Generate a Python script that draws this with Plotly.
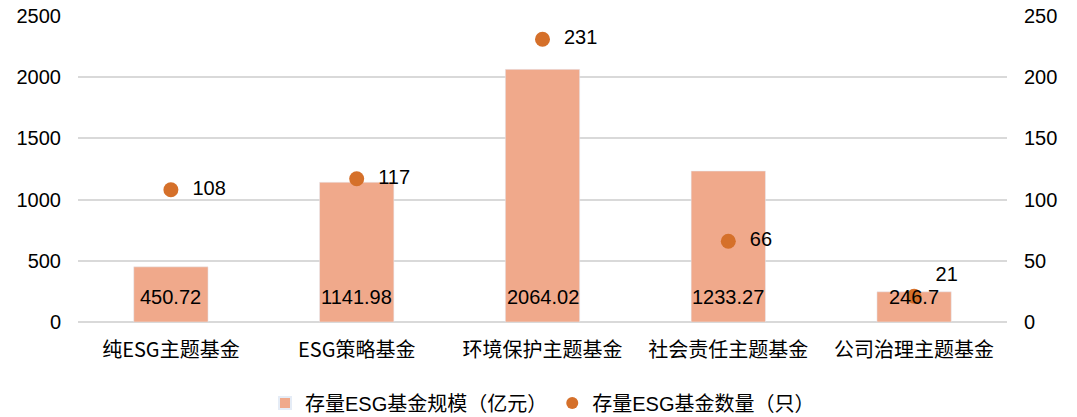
import plotly.graph_objects as go

categories = ['纯ESG主题基金', 'ESG策略基金', '环境保护主题基金', '社会责任主题基金', '公司治理主题基金']
fund_size = [450.72, 1141.98, 2064.02, 1233.27, 246.7]
fund_count = [108, 117, 231, 66, 21]
size_labels = ['450.72', '1141.98', '2064.02', '1233.27', '246.7']
count_pos = ['middle right', 'middle right', 'middle right', 'middle right', 'top right']

font_main = 'Liberation Sans, Arial, Noto Sans CJK SC'

fig = go.Figure()

fig.add_trace(go.Bar(
    x=categories, y=fund_size, name='存量ESG基金规模（亿元）',
    marker=dict(color='#F0A98B'),
    width=0.4,
))

fig.add_trace(go.Scatter(
    x=categories, y=fund_count, name='存量ESG基金数量（只）', yaxis='y2',
    mode='markers+text', marker=dict(color='#D5702A', size=15),
    text=['  ' + str(v) for v in fund_count], textposition=count_pos,
    textfont=dict(color='black', size=20, family=font_main),
))

# bar values sit near the base of each bar (as in the excel chart)
for cat, lab in zip(categories, size_labels):
    fig.add_annotation(x=cat, y=0, text=lab, showarrow=False, yanchor='middle', yshift=25,
                       font=dict(color='black', size=20, family=font_main))

# page body has an 8px margin, so shift the plot area up/left
fig.update_layout(
    width=1077, height=417,
    margin=dict(l=70, r=78, t=8, b=103, autoexpand=False),
    plot_bgcolor='white', paper_bgcolor='white',
    font=dict(family=font_main, size=20, color='black'),
    showlegend=True,
    legend=dict(orientation='h', x=0.5, xanchor='center', y=-0.265, yanchor='middle',
                font=dict(size=20, family='Liberation Sans, Noto Sans CJK SC'), itemsizing='constant'),
    xaxis=dict(showline=False, ticks='', ticklabelstandoff=14,
               tickfont=dict(size=20, family='Noto Sans CJK SC, Liberation Sans')),
    yaxis=dict(range=[0, 2500], dtick=500, showgrid=True, gridcolor='#D9D9D9', gridwidth=1.5,
               zeroline=True, zerolinecolor='#D9D9D9', zerolinewidth=1.5, ticks='',
               ticklabelstandoff=16, ticklabeloverflow='allow'),
    yaxis2=dict(range=[0, 250], dtick=50, overlaying='y', side='right', showgrid=False,
                zeroline=False, ticks='', ticklabelstandoff=16, ticklabeloverflow='allow'),
    bargap=0.6,
)

fig.write_html('out.html')
